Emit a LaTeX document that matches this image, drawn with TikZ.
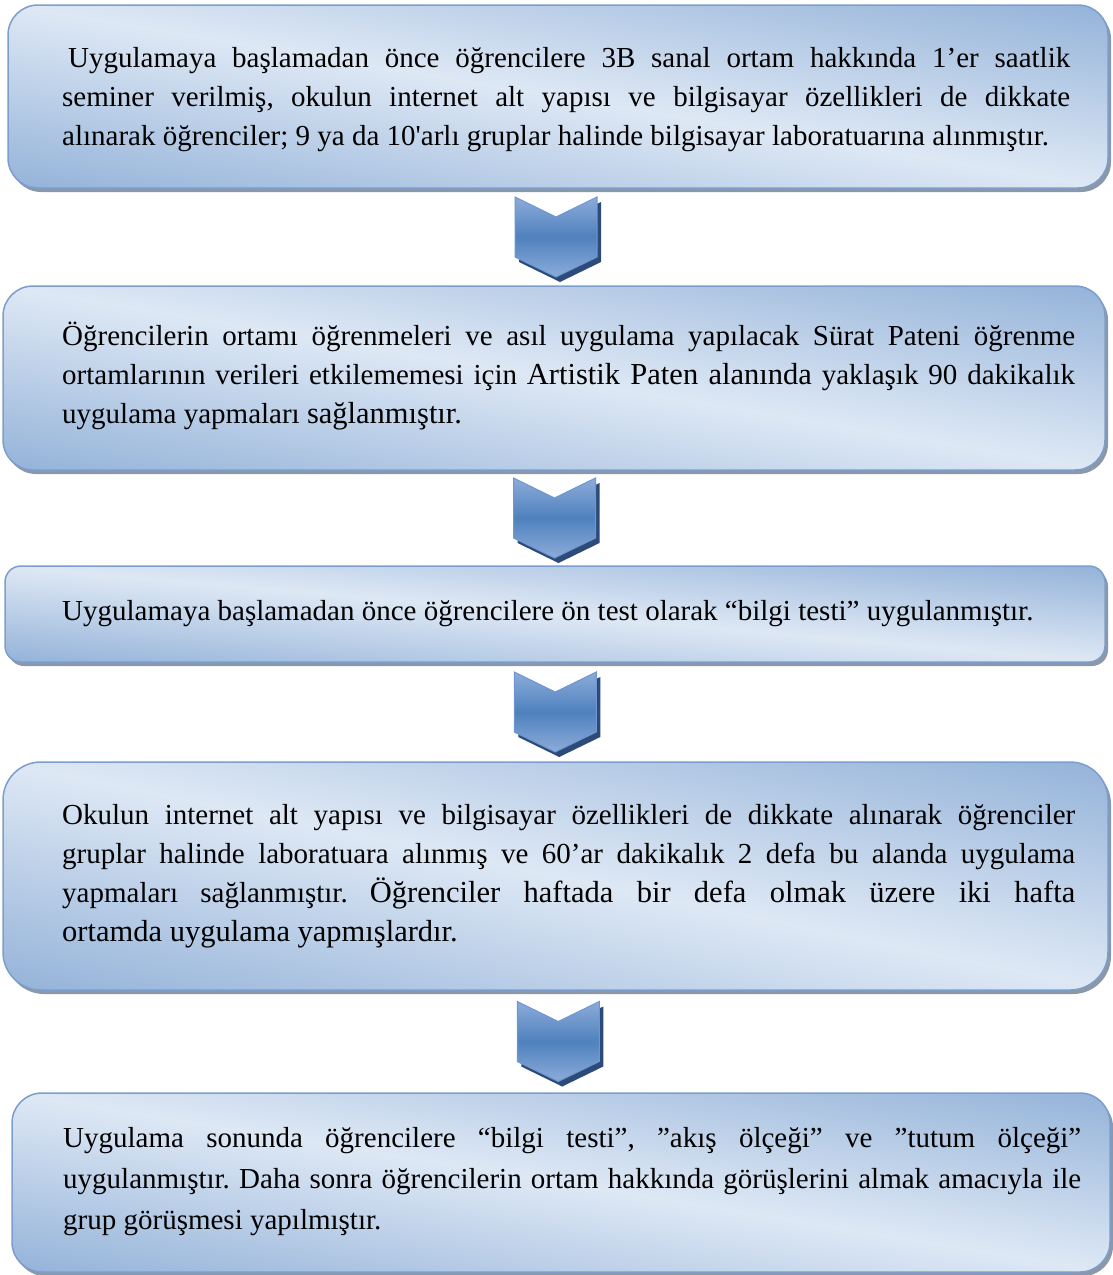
\documentclass[tikz,border=0pt]{standalone}
\usepackage{fontspec}
\setmainfont{Liberation Serif}
\usetikzlibrary{shapes.symbols,shadows,calc}

\definecolor{boxline}{RGB}{124,158,204}
\definecolor{boxshadow}{RGB}{140,152,168}
\definecolor{arrowmid}{RGB}{79,129,189}
\definecolor{arrowlight}{RGB}{140,172,218}
\definecolor{arrowline}{RGB}{110,150,210}
\definecolor{arrowshadow}{RGB}{45,75,120}

% light band along the diagonal, darker towards two corners
\pgfdeclarefunctionalshading{boxfill}{\pgfpoint{-50bp}{-50bp}}{\pgfpoint{50bp}{50bp}}{}{
  add abs 50 div
  dup 1 sub abs neg add 1 add 2 div
  dup dup
  -0.11 mul 0.96 add
  3 1 roll
  -0.21 mul 0.91 add
  3 1 roll
  -0.29 mul 0.87 add
  3 1 roll
}

\newcommand{\bigwords}{\fontsize{30.5}{39}\selectfont}

\frenchspacing

\begin{document}
\begin{tikzpicture}[x=1pt,y=-1pt,
  stepbox/.style={rectangle,draw=boxline,line width=1.5pt,shading=boxfill,inner sep=0pt,
    drop shadow={shadow xshift=3pt,shadow yshift=-4pt,fill=boxshadow,opacity=1}},
  boxtext/.style={anchor=west,inner sep=0pt,align=justify,font=\fontsize{29}{39}\selectfont},
  chevron/.style={signal,signal to=south,signal from=north,signal pointer angle=128,
    draw=arrowline,line width=1pt,top color=arrowlight,bottom color=arrowlight,middle color=arrowmid,
    minimum width=82pt,minimum height=40pt,inner sep=0pt,
    drop shadow={shadow xshift=4pt,shadow yshift=-5pt,fill=arrowshadow,opacity=1}}]

\useasboundingbox (0,0) rectangle (1113,1275);

% seminar box
\node[stepbox,minimum width=1100pt,minimum height=183pt,rounded corners=30pt] (box1) at (558,96.5) {};
\node[boxtext,text width=1008pt] (text1) at (62,99.5) {\noindent\hspace*{6pt}Uygulamaya başlamadan önce öğrencilere 3B sanal ortam hakkında 1’er saatlik\linebreak seminer verilmiş, okulun internet alt yapısı ve bilgisayar özellikleri de dikkate\linebreak alınarak öğrenciler; 9 ya da 10\textquotesingle arlı gruplar halinde bilgisayar laboratuarına alınmıştır.};

% practice box
\node[stepbox,minimum width=1102pt,minimum height=184pt,rounded corners=30pt] (box2) at (554,378) {};
\node[boxtext,text width=1013pt] (text2) at (62,376) {\noindent Öğrencilerin ortamı öğrenmeleri ve asıl uygulama yapılacak Sürat Pateni öğrenme\linebreak ortamlarının verileri etkilememesi için {\bigwords Artistik Paten alanında} yaklaşık 90 dakikalık\linebreak uygulama yapmaları {\bigwords sağlanmıştır.}};

% pre-test box
\node[stepbox,minimum width=1100pt,minimum height=96pt,rounded corners=16pt] (box3) at (555,614) {};
\node[boxtext,align=left] (text3) at (62,614) {Uygulamaya başlamadan önce öğrencilere ön test olarak “bilgi testi” uygulanmıştır.};

% lab box
\node[stepbox,minimum width=1105pt,minimum height=228pt,rounded corners=38pt] (box4) at (555.5,876) {};
\node[boxtext,text width=1013pt] (text4) at (62,876) {\noindent Okulun internet alt yapısı ve bilgisayar özellikleri de dikkate alınarak öğrenciler\linebreak gruplar halinde laboratuara alınmış ve 60’ar dakikalık 2 defa bu alanda uygulama\linebreak yapmaları sağlanmıştır. {\bigwords Öğrenciler haftada bir defa olmak üzere iki hafta\linebreak ortamda uygulama yapmışlardır.}};

% post-test box
\node[stepbox,minimum width=1098pt,minimum height=179pt,rounded corners=30pt] (box5) at (561,1182.5) {};
\node[boxtext,text width=1018pt,font=\fontsize{29}{41}\selectfont] (text5) at (63,1182) {\noindent Uygulama sonunda öğrencilere “bilgi testi”, ”akış ölçeği” ve ”tutum ölçeği”\linebreak uygulanmıştır. Daha sonra öğrencilerin ortam hakkında görüşlerini almak amacıyla ile\linebreak grup görüşmesi yapılmıştır.};

% chevrons between the boxes
\node[chevron] (arr1) at ($(box1.south)!0.5!(box2.north)$) {};
\node[chevron] (arr2) at ($(box2.south)!0.5!(box3.north)$) {};
\node[chevron] (arr3) at ($(box3.south)!0.5!(box4.north)$) {};
\node[chevron] (arr4) at ($(box4.south)!0.5!(box5.north)$) {};

\end{tikzpicture}
\end{document}
